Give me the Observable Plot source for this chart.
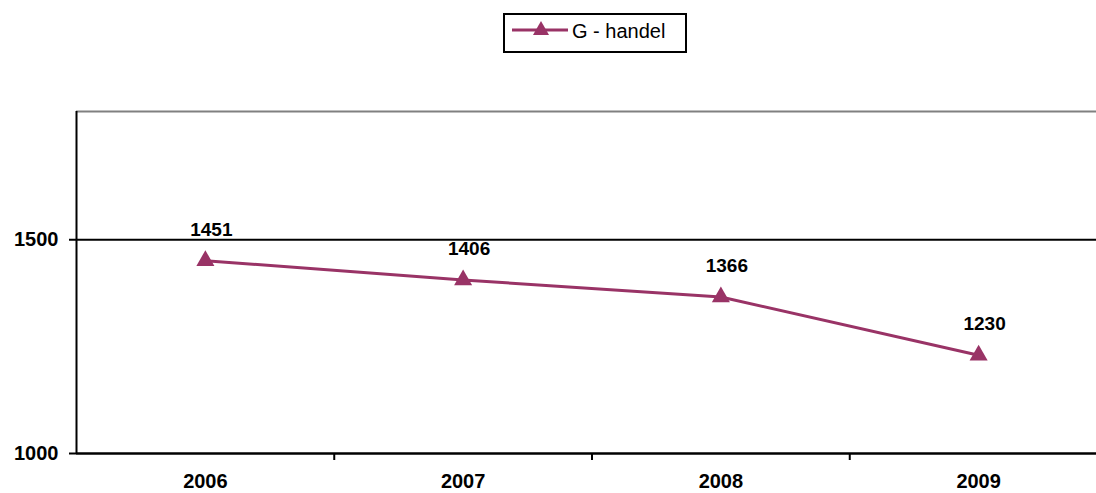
<!DOCTYPE html>
<html>
<head>
<meta charset="utf-8">
<script src="https://cdn.jsdelivr.net/npm/d3@7"></script>
<script src="https://cdn.jsdelivr.net/npm/@observablehq/plot@0.6"></script>
<style>
  html, body { margin: 0; padding: 0; background: #fff; overflow: hidden; }
  #legend { position: absolute; left: 503px; top: 13px; width: 180px; height: 36px; border: 2px solid #000; background: #fff; font-family: "Liberation Sans", Arial, sans-serif; }
  #legend svg { position: absolute; left: 5px; top: 4px; }
  #legend span { position: absolute; left: 67px; top: 5px; font-size: 20px; color: #000; white-space: nowrap; }
  #chart { position: absolute; left: 0; top: 100px; width: 1096px; height: 393px; overflow: hidden; }
  #chart svg { display: block; max-width: none !important; }
</style>
</head>
<body>
<div id="legend">
  <svg width="60" height="24"><line x1="2" y1="11" x2="58" y2="11" stroke="#993366" stroke-width="3"/><path d="M31,2 L39,16 L23,16 Z" fill="#993366"/></svg>
  <span id="series-name"></span>
</div>
<div id="chart"></div>
<script>
const seriesName = "G - handel";
const years = [2006, 2007, 2008, 2009];
const values = [1451, 1406, 1366, 1230];
const yTicks = [1000, 1500];
const yMax = 1800;

document.getElementById("series-name").textContent = seriesName;

const data = years.map((year, i) => ({year, value: values[i]}));
const boundaries = years.slice(0, -1).map(y => y + 0.5);

const chart = Plot.plot({
  width: 1107,
  height: 393,
  marginTop: 11,
  marginBottom: 40,
  marginLeft: 76,
  marginRight: 0,
  style: {fontFamily: "'Liberation Sans', Arial, sans-serif", fontSize: "20px", fontWeight: "bold", color: "#000", background: "#fff", maxWidth: "none"},
  x: {domain: [years[0] - 0.5, years[years.length - 1] + 0.5]},
  y: {domain: [yTicks[0], yMax]},
  marks: [
    Plot.ruleY([yMax], {stroke: "#808080", strokeWidth: 2}),
    Plot.ruleY([1500], {stroke: "#000", strokeWidth: 2}),
    Plot.ruleY([yTicks[0]], {stroke: "#000", strokeWidth: 2.5}),
    Plot.ruleX([years[0] - 0.5], {stroke: "#000", strokeWidth: 2}),
    Plot.axisY({ticks: yTicks, tickSize: 7, tickPadding: 11, tickFormat: d => String(d), label: null, strokeWidth: 2, strokeOpacity: 1, fontSize: 20, fontWeight: "bold"}),
    Plot.axisX({ticks: boundaries, tickSize: 7, tickFormat: () => "", label: null, strokeWidth: 2, strokeOpacity: 1}),
    Plot.axisX({ticks: years, tickSize: 0, tickPadding: 20, tickFormat: d => String(d), label: null, fontSize: 20, fontWeight: "bold"}),
    Plot.line(data, {x: "year", y: "value", stroke: "#993366", strokeWidth: 3}),
    Plot.dot(data, {x: "year", y: "value", symbol: "triangle", r: 6.7, fill: "#993366", stroke: "none"}),
    Plot.text(data, {x: "year", y: "value", text: d => String(d.value), dy: -31, dx: 6, fontSize: 19, fontWeight: "bold", fill: "#000"})
  ]
});
document.getElementById("chart").appendChild(chart);
</script>
</body>
</html>
